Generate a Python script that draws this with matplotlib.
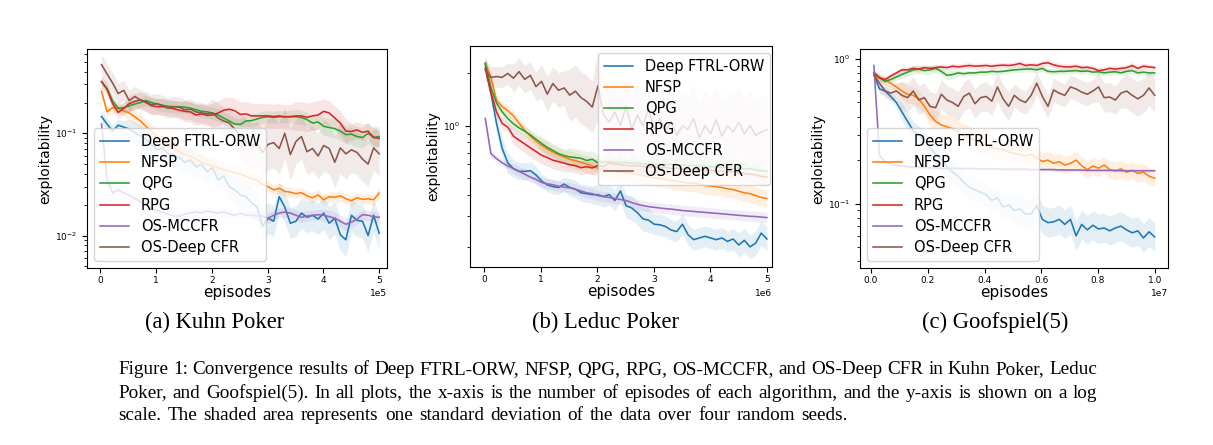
import numpy as np
import matplotlib
matplotlib.use("Agg")
import matplotlib.pyplot as plt

# ---------------- data ----------------
labels = ["Deep FTRL-ORW", "NFSP", "QPG", "RPG", "OS-MCCFR", "OS-Deep CFR"]
colors = ["#1f77b4", "#ff7f0e", "#2ca02c", "#d62728", "#9467bd", "#8c564b"]

# Kuhn Poker (episodes 0 .. 5e5)
kuhn_episodes = np.linspace(0.02e5, 5e5, 51)
kuhn_ftrl = [0.146, 0.123, 0.105, 0.12, 0.115, 0.110, 0.102, 0.095, 0.087, 0.079,
             0.069, 0.072, 0.063, 0.062, 0.058, 0.052, 0.055, 0.047, 0.050, 0.042,
             0.046, 0.035, 0.038, 0.030, 0.028, 0.025, 0.024, 0.021, 0.019, 0.0123,
             0.0148, 0.0138, 0.024, 0.019, 0.0132, 0.0138, 0.0166, 0.0151, 0.0158, 0.0145,
             0.0166, 0.0132, 0.0148, 0.0102, 0.0091, 0.0158, 0.0141, 0.0138, 0.010, 0.0158,
             0.0105]
kuhn_nfsp = [0.257, 0.162, 0.178, 0.174, 0.166, 0.158, 0.145, 0.132, 0.117, 0.105,
             0.093, 0.085, 0.078, 0.071, 0.066, 0.062, 0.059, 0.056, 0.052, 0.050,
             0.048, 0.046, 0.044, 0.043, 0.041, 0.040, 0.038, 0.036, 0.035, 0.0316,
             0.030, 0.028, 0.029, 0.027, 0.0266, 0.0257, 0.0263, 0.0245, 0.0234, 0.025,
             0.0224, 0.024, 0.0237, 0.0245, 0.0229, 0.0219, 0.0234, 0.0226, 0.0229, 0.0224,
             0.026]
kuhn_qpg = [0.32, 0.275, 0.207, 0.176, 0.178, 0.186, 0.193, 0.20, 0.209, 0.20,
            0.193, 0.188, 0.184, 0.182, 0.182, 0.18, 0.176, 0.17, 0.164, 0.162,
            0.158, 0.151, 0.141, 0.132, 0.123, 0.122, 0.132, 0.133, 0.138, 0.143,
            0.145, 0.143, 0.145, 0.145, 0.146, 0.145, 0.143, 0.136, 0.126, 0.129,
            0.117, 0.114, 0.111, 0.105, 0.097, 0.098, 0.093, 0.091, 0.1, 0.091,
            0.093]
kuhn_rpg = [0.32, 0.269, 0.195, 0.16, 0.175, 0.195, 0.205, 0.212, 0.2, 0.186,
            0.182, 0.182, 0.178, 0.174, 0.168, 0.164, 0.162, 0.151, 0.155, 0.15,
            0.151, 0.158, 0.168, 0.172, 0.166, 0.153, 0.155, 0.148, 0.148, 0.148,
            0.148, 0.146, 0.148, 0.145, 0.145, 0.148, 0.148, 0.143, 0.148, 0.151,
            0.164, 0.158, 0.141, 0.126, 0.105, 0.104, 0.108, 0.102, 0.105, 0.091,
            0.089]
kuhn_mccfr = [0.123, 0.035, 0.026, 0.028, 0.026, 0.025, 0.023, 0.0215, 0.020, 0.0185,
              0.0175, 0.017, 0.0162, 0.0155, 0.0155, 0.0162, 0.0166, 0.017, 0.0166, 0.0174,
              0.017, 0.0166, 0.017, 0.0162, 0.0158, 0.0166, 0.0158, 0.0158, 0.0155, 0.0155,
              0.0148, 0.0158, 0.0166, 0.017, 0.0166, 0.0158, 0.0151, 0.0155, 0.0158, 0.016,
              0.0158, 0.0153, 0.0148, 0.0138, 0.0129, 0.0135, 0.0145, 0.016, 0.0158, 0.0153,
              0.0151]
kuhn_deepcfr = [0.47, 0.38, 0.31, 0.245, 0.263, 0.209, 0.229, 0.212, 0.204, 0.19,
                0.195, 0.186, 0.176, 0.182, 0.18, 0.17, 0.172, 0.162, 0.158, 0.155,
                0.158, 0.141, 0.132, 0.126, 0.11, 0.095, 0.083, 0.076, 0.079, 0.065,
                0.078, 0.081, 0.071, 0.10, 0.062, 0.083, 0.093, 0.066, 0.071, 0.06,
                0.076, 0.071, 0.052, 0.072, 0.063, 0.069, 0.065, 0.056, 0.05, 0.072,
                0.063]
# log10 half-width of the shaded band, one value per 5 episode points
kuhn_std = [[0.06, 0.10, 0.12, 0.12, 0.12, 0.14, 0.15, 0.15, 0.16, 0.16],
            [0.05, 0.07, 0.08, 0.08, 0.07, 0.06, 0.05, 0.05, 0.05, 0.05],
            [0.05, 0.05, 0.06, 0.06, 0.06, 0.06, 0.06, 0.07, 0.09, 0.10],
            [0.06, 0.08, 0.08, 0.10, 0.12, 0.12, 0.12, 0.14, 0.12, 0.08],
            [0.04, 0.05, 0.05, 0.05, 0.04, 0.04, 0.05, 0.05, 0.06, 0.05],
            [0.10, 0.10, 0.10, 0.10, 0.14, 0.22, 0.25, 0.22, 0.25, 0.22]]

# Leduc Poker (episodes 0 .. 5e6)
leduc_episodes = np.linspace(0.02e6, 5e6, 51)
leduc_ftrl = [2.24, 1.55, 1.03, 0.74, 0.61, 0.565, 0.545, 0.545, 0.55, 0.52,
              0.48, 0.455, 0.445, 0.44, 0.46, 0.44, 0.43, 0.41, 0.405, 0.40,
              0.40, 0.39, 0.40, 0.37, 0.42, 0.345, 0.335, 0.315, 0.29, 0.285,
              0.27, 0.268, 0.262, 0.25, 0.245, 0.27, 0.235, 0.22, 0.225, 0.23,
              0.225, 0.22, 0.225, 0.215, 0.222, 0.205, 0.218, 0.20, 0.21, 0.24,
              0.222]
leduc_nfsp = [2.3, 1.9, 1.40, 1.29, 1.22, 1.14, 1.035, 0.94, 0.87, 0.815,
              0.77, 0.735, 0.705, 0.68, 0.66, 0.64, 0.627, 0.615, 0.60, 0.585,
              0.57, 0.555, 0.55, 0.545, 0.54, 0.535, 0.53, 0.522, 0.515, 0.508,
              0.50, 0.495, 0.49, 0.483, 0.478, 0.472, 0.466, 0.468, 0.458, 0.452,
              0.448, 0.444, 0.44, 0.432, 0.428, 0.418, 0.41, 0.405, 0.395, 0.385,
              0.38]
leduc_qpg = [2.29, 1.66, 1.35, 1.20, 1.10, 1.025, 0.97, 0.93, 0.885, 0.835,
             0.79, 0.75, 0.72, 0.69, 0.672, 0.66, 0.655, 0.648, 0.63, 0.64,
             0.61, 0.62, 0.62, 0.615, 0.61, 0.615, 0.605, 0.61, 0.60, 0.605,
             0.598, 0.60, 0.595, 0.598, 0.59, 0.593, 0.585, 0.59, 0.582, 0.585,
             0.578, 0.58, 0.572, 0.575, 0.567, 0.57, 0.562, 0.565, 0.556, 0.55,
             0.545]
leduc_rpg = [2.14, 1.55, 1.2, 1.03, 0.98, 0.87, 0.825, 0.785, 0.745, 0.71,
             0.675, 0.655, 0.632, 0.62, 0.608, 0.595, 0.588, 0.572, 0.58, 0.57,
             0.59, 0.58, 0.61, 0.60, 0.595, 0.59, 0.585, 0.59, 0.58, 0.575,
             0.58, 0.57, 0.575, 0.565, 0.57, 0.56, 0.565, 0.555, 0.56, 0.55,
             0.555, 0.545, 0.55, 0.54, 0.545, 0.535, 0.53, 0.525, 0.52, 0.51,
             0.505]
leduc_mccfr = [1.1, 0.69, 0.645, 0.61, 0.585, 0.565, 0.545, 0.525, 0.505, 0.49,
               0.47, 0.462, 0.456, 0.448, 0.442, 0.438, 0.43, 0.42, 0.41, 0.405,
               0.395, 0.39, 0.385, 0.38, 0.375, 0.37, 0.36, 0.352, 0.346, 0.341,
               0.338, 0.335, 0.332, 0.33, 0.327, 0.324, 0.322, 0.32, 0.318, 0.316,
               0.314, 0.312, 0.31, 0.308, 0.306, 0.304, 0.302, 0.30, 0.299, 0.297,
               0.295]
leduc_deepcfr = [2.1, 1.9, 1.92, 1.9, 2.0, 1.88, 2.05, 1.85, 1.95, 1.68,
                 1.8, 1.52, 1.75, 1.6, 1.65, 1.5, 1.58, 1.45, 1.38, 1.28,
                 1.7, 1.15, 1.05, 1.2, 1.0, 1.3, 0.95, 1.15, 1.0, 1.25,
                 0.95, 1.1, 0.92, 1.05, 0.88, 1.0, 0.95, 1.1, 0.85, 1.0,
                 0.9, 1.08, 0.87, 1.0, 0.92, 1.05, 0.9, 1.0, 0.88, 0.92,
                 0.95]
leduc_std = [[0.06, 0.05, 0.04, 0.05, 0.06, 0.07, 0.06, 0.06, 0.06, 0.07],
             [0.03, 0.03, 0.04, 0.05, 0.05, 0.05, 0.05, 0.05, 0.05, 0.05],
             [0.03, 0.03, 0.04, 0.05, 0.05, 0.05, 0.04, 0.04, 0.04, 0.04],
             [0.03, 0.05, 0.05, 0.04, 0.04, 0.04, 0.04, 0.04, 0.04, 0.05],
             [0.02, 0.03, 0.03, 0.03, 0.03, 0.03, 0.03, 0.03, 0.03, 0.03],
             [0.06, 0.08, 0.10, 0.15, 0.20, 0.18, 0.20, 0.20, 0.20, 0.20]]

# Goofspiel(5) (episodes 0 .. 1e7)
goof_episodes = np.linspace(0.01e7, 1e7, 51)
goof_ftrl = [0.78, 0.62, 0.60, 0.55, 0.50, 0.43, 0.37, 0.32, 0.30, 0.27,
             0.245, 0.22, 0.205, 0.18, 0.165, 0.155, 0.14, 0.13, 0.125, 0.12,
             0.115, 0.105, 0.11, 0.095, 0.098, 0.09, 0.092, 0.085, 0.085, 0.097,
             0.078, 0.074, 0.075, 0.078, 0.072, 0.078, 0.06, 0.072, 0.066, 0.071,
             0.067, 0.068, 0.065, 0.068, 0.07, 0.066, 0.063, 0.065, 0.058, 0.064,
             0.059]
goof_nfsp = [0.77, 0.74, 0.71, 0.68, 0.64, 0.60, 0.57, 0.56, 0.53, 0.47,
             0.41, 0.37, 0.35, 0.34, 0.33, 0.31, 0.295, 0.285, 0.275, 0.265,
             0.255, 0.245, 0.24, 0.235, 0.228, 0.222, 0.218, 0.214, 0.22, 0.205,
             0.196, 0.20, 0.19, 0.195, 0.185, 0.19, 0.20, 0.183, 0.172, 0.182,
             0.176, 0.185, 0.172, 0.168, 0.174, 0.165, 0.17, 0.162, 0.165, 0.155,
             0.15]
goof_qpg = [0.80, 0.74, 0.70, 0.72, 0.75, 0.78, 0.81, 0.84, 0.85, 0.83,
            0.84, 0.86, 0.82, 0.77, 0.78, 0.80, 0.79, 0.80, 0.80, 0.81,
            0.81, 0.82, 0.815, 0.82, 0.83, 0.84, 0.845, 0.85, 0.85, 0.84,
            0.86, 0.82, 0.815, 0.82, 0.82, 0.825, 0.83, 0.82, 0.825, 0.81,
            0.815, 0.80, 0.81, 0.815, 0.80, 0.82, 0.83, 0.80, 0.81, 0.80,
            0.80]
goof_rpg = [0.80, 0.74, 0.72, 0.76, 0.80, 0.84, 0.84, 0.86, 0.85, 0.87,
            0.86, 0.87, 0.88, 0.87, 0.89, 0.88, 0.89, 0.90, 0.89, 0.895,
            0.90, 0.89, 0.90, 0.905, 0.90, 0.91, 0.93, 0.90, 0.91, 0.90,
            0.93, 0.94, 0.91, 0.89, 0.88, 0.88, 0.89, 0.87, 0.875, 0.86,
            0.83, 0.84, 0.86, 0.85, 0.86, 0.87, 0.90, 0.86, 0.89, 0.88,
            0.87]
goof_mccfr = [0.90, 0.215, 0.195, 0.188, 0.184, 0.182, 0.18, 0.179, 0.178, 0.178,
              0.177, 0.177, 0.176, 0.176, 0.176, 0.175, 0.175, 0.175, 0.175, 0.174,
              0.174, 0.174, 0.174, 0.173, 0.173, 0.173, 0.173, 0.173, 0.172, 0.172,
              0.172, 0.172, 0.172, 0.171, 0.171, 0.171, 0.171, 0.171, 0.170, 0.170,
              0.170, 0.170, 0.170, 0.170, 0.169, 0.169, 0.169, 0.169, 0.169, 0.169,
              0.169]
goof_deepcfr = [0.77, 0.68, 0.60, 0.58, 0.60, 0.56, 0.54, 0.60, 0.52, 0.54,
                0.47, 0.46, 0.57, 0.52, 0.50, 0.47, 0.55, 0.58, 0.49, 0.54,
                0.55, 0.51, 0.64, 0.53, 0.47, 0.56, 0.52, 0.50, 0.56, 0.68,
                0.55, 0.47, 0.61, 0.58, 0.56, 0.64, 0.62, 0.59, 0.57, 0.60,
                0.64, 0.54, 0.545, 0.52, 0.58, 0.60, 0.56, 0.53, 0.56, 0.63,
                0.56]
goof_std = [[0.03, 0.06, 0.08, 0.08, 0.08, 0.10, 0.10, 0.10, 0.10, 0.10],
            [0.03, 0.06, 0.08, 0.08, 0.07, 0.07, 0.06, 0.06, 0.06, 0.06],
            [0.02, 0.03, 0.03, 0.02, 0.02, 0.02, 0.02, 0.02, 0.02, 0.02],
            [0.02, 0.02, 0.02, 0.02, 0.02, 0.02, 0.02, 0.02, 0.02, 0.02],
            [0.02, 0.01, 0.01, 0.01, 0.01, 0.01, 0.01, 0.01, 0.01, 0.01],
            [0.05, 0.10, 0.10, 0.10, 0.10, 0.08, 0.08, 0.08, 0.10, 0.12]]

subcaptions = ["(a) Kuhn Poker", "(b) Leduc Poker", "(c) Goofspiel(5)"]
caption_lines = [
    "Figure 1: Convergence results of Deep FTRL-ORW, NFSP, QPG, RPG, OS-MCCFR, and OS-Deep CFR in Kuhn Poker, Leduc",
    "Poker, and Goofspiel(5). In all plots, the x-axis is the number of episodes of each algorithm, and the y-axis is shown on a log",
    "scale. The shaded area represents one standard deviation of the data over four random seeds.",
]

# ---------------- figure ----------------
W, H = 1213, 445
fig = plt.figure(figsize=(W / 100, H / 100), dpi=100)

def px_axes(l, t, r, b):
    return [l / W, (H - b) / H, (r - l) / W, (b - t) / H]

panels = [
    dict(rect=px_axes(87, 49, 387, 268), x=kuhn_episodes,
         ys=[kuhn_ftrl, kuhn_nfsp, kuhn_qpg, kuhn_rpg, kuhn_mccfr, kuhn_deepcfr],
         std=kuhn_std, xlim=(-0.24e5, 5.14e5), ylim=(0.00482, 0.667),
         leg=dict(loc="lower left")),
    dict(rect=px_axes(470, 45.5, 772, 267), x=leduc_episodes,
         ys=[leduc_ftrl, leduc_nfsp, leduc_qpg, leduc_rpg, leduc_mccfr, leduc_deepcfr],
         std=leduc_std, xlim=(-0.25e6, 5.09e6), ylim=(0.153, 2.9),
         leg=dict(loc="upper right", bbox_to_anchor=(1.018, 1.0))),
    dict(rect=px_axes(860, 49, 1168, 268), x=goof_episodes,
         ys=[goof_ftrl, goof_nfsp, goof_qpg, goof_rpg, goof_mccfr, goof_deepcfr],
         std=goof_std, xlim=(-0.039e7, 1.047e7), ylim=(0.036, 1.17),
         leg=dict(loc="lower left")),
]

for p in panels:
    ax = fig.add_axes(p["rect"])
    x = p["x"]
    for y, s, lab, col in zip(p["ys"], p["std"], labels, colors):
        y = np.asarray(y)
        spread = np.append(np.repeat(s, 5), s[-1])
        ax.fill_between(x, y / 10 ** spread, y * 10 ** spread, color=col,
                        alpha=0.12, linewidth=0)
        ax.plot(x, y, color=col, lw=1.15, label=lab)
    ax.set_yscale("log")
    ax.set_xlim(*p["xlim"])
    ax.set_ylim(*p["ylim"])
    ax.ticklabel_format(axis="x", style="sci", scilimits=(0, 0))
    ax.tick_params(labelsize=6.5)
    ax.tick_params(axis="x", pad=2.5)
    ax.xaxis.get_offset_text().set_fontsize(6.5)
    ax.set_xlabel("episodes", fontsize=11, labelpad=0)
    ax.set_ylabel("exploitability", fontsize=10, labelpad=2)
    ax.legend(fontsize=10.5, labelspacing=0.42, **p["leg"])

for txt, cx in zip(subcaptions, [215, 605, 995]):
    fig.text(cx / W, 1 - 322 / H, txt, ha="center", va="center",
             family="Liberation Serif", fontsize=16.3)

# caption: first two lines justified between x=118 and x=1097 px
renderer = fig.canvas.get_renderer()
cap_fs = 13.75
for i, (txt, cy) in enumerate(zip(caption_lines, [370, 393, 415])):
    words = txt.split(" ")
    objs = [fig.text(0, 1 - cy / H, w, ha="left", va="center",
                     family="Liberation Serif", fontsize=cap_fs) for w in words]
    widths = [o.get_window_extent(renderer).width for o in objs]
    if i < 2:
        gap = (1097 - 118 - sum(widths)) / (len(words) - 1)
    else:
        gap = 0.327 * cap_fs * 100 / 72
    xpos = 118.0
    for o, wd in zip(objs, widths):
        o.set_x(xpos / W)
        xpos += wd + gap

fig.savefig("out.png", dpi=100)
